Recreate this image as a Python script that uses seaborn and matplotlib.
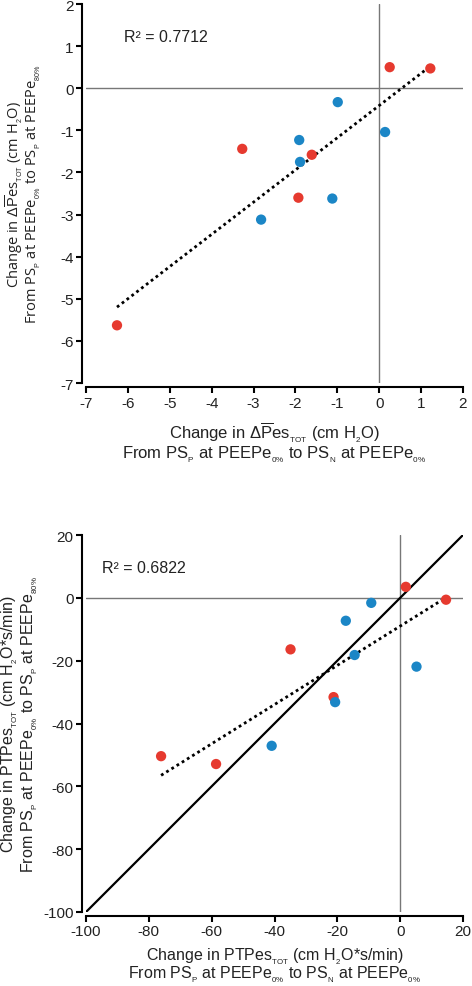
import numpy as np
import pandas as pd
import matplotlib
matplotlib.use("Agg")
import matplotlib.pyplot as plt
import seaborn as sns

# ---- data ----
top_group = ["red"] * 6 + ["blue"] * 6
top_x = [0.25, 1.22, -3.27, -1.61, -1.93, -6.26, -0.99, 0.14, -1.91, -1.89, -1.12, -2.82]
top_y = [0.50, 0.47, -1.44, -1.58, -2.60, -5.63, -0.33, -1.04, -1.23, -1.75, -2.62, -3.12]

bot_group = ["red"] * 6 + ["blue"] * 6
bot_x = [1.8, 14.6, -34.9, -21.2, -76.1, -58.6, -9.2, -17.3, -14.5, 5.2, -20.7, -40.9]
bot_y = [3.5, -0.6, -16.4, -31.6, -50.4, -52.9, -1.6, -7.3, -18.2, -21.9, -33.2, -47.1]

top_r2 = "R\u00b2 = 0.7712"
bot_r2 = "R\u00b2 = 0.6822"
top_xticks = list(range(-7, 3))
top_yticks = list(range(-7, 3))
bot_ticks = list(range(-100, 21, 20))
identity = [-100, 20]

palette = {"red": "#E63A2F", "blue": "#1B86C6"}

sns.set_theme(style="white")
plt.rcParams["font.family"] = ["Liberation Sans", "DejaVu Sans"]
plt.rcParams["mathtext.fontset"] = "custom"
plt.rcParams["mathtext.rm"] = "Liberation Sans"
plt.rcParams["mathtext.it"] = "Liberation Sans:italic"
plt.rcParams["mathtext.bf"] = "Liberation Sans:bold"
plt.rcParams["axes.unicode_minus"] = False

fig = plt.figure(figsize=(4.72, 9.87), dpi=100)
W, H = 472, 987
def axrect(x0, y0, x1, y1):
    return [x0 / W, 1 - y1 / H, (x1 - x0) / W, (y1 - y0) / H]

ax1 = fig.add_axes(axrect(86, 5, 463, 384))
ax2 = fig.add_axes(axrect(86, 536, 463, 913))

df1 = pd.DataFrame({"x": top_x, "y": top_y, "g": top_group})
df2 = pd.DataFrame({"x": bot_x, "y": bot_y, "g": bot_group})

def style(ax):
    for s in ["top", "right"]:
        ax.spines[s].set_visible(False)
    for s in ["left", "bottom"]:
        ax.spines[s].set_position(("outward", 3))
        ax.spines[s].set_linewidth(1.5)
        ax.spines[s].set_color("black")
    ax.tick_params(axis="both", direction="out", length=4, width=1.5,
                   color="black", labelsize=11, labelcolor="#222222", pad=2)
    ax.tick_params(axis="both", which="both", bottom=True, left=True)
    ax.grid(False)

def sb(t):
    return r"$_{_{\mathrm{%s}}}$" % t

def lbl1(q, unit):
    return "Change in " + q + sb("TOT") + " (cm H" + sb("2") + unit + ")"

def lbl2(a, c):
    return "From PS" + sb("P") + " at PEEPe" + sb("0\\%") + " to PS" + sb(a) + " at PEEPe" + sb(c)

DP = r"$\Delta\overline{\mathrm{P}}$es"
TXT = "#222222"

# ---- top panel ----
ax = ax1
ax.axhline(0, color="#777777", lw=1.0, zorder=1)
ax.axvline(0, color="#777777", lw=1.0, zorder=1)
sns.regplot(data=df1, x="x", y="y", scatter=False, ci=None, ax=ax,
            line_kws=dict(color="black", lw=2.0, ls=(0, (1, 1.2))))
sns.scatterplot(data=df1, x="x", y="y", hue="g", palette=palette, s=55,
                edgecolor="none", legend=False, ax=ax, zorder=3)
ax.set_xlim(-7, 2)
ax.set_ylim(-7, 2)
ax.set_xticks(top_xticks)
ax.set_yticks(top_yticks)
style(ax)
ax.text(-6.1, 1.22, top_r2, fontsize=11.5, va="center", ha="left", color=TXT)
ax.set_xlabel(lbl1(DP, "O") + "\n" + lbl2("N", "0\\%"),
              fontsize=12, color=TXT, linespacing=0.95)
ax.xaxis.set_label_coords(0.5, -0.095)
ax.set_ylabel(lbl1(DP, "O") + "\n" + lbl2("P", "80\\%"),
              fontsize=10.5, color=TXT, linespacing=1.0, family=["Open Sans", "DejaVu Sans"])
ax.yaxis.set_label_coords(-0.115, 0.5)

# ---- bottom panel ----
ax = ax2
ax.axhline(0, color="#777777", lw=1.0, zorder=1)
ax.axvline(0, color="#777777", lw=1.0, zorder=1)
sns.lineplot(x=identity, y=identity, color="black", lw=1.6, ax=ax, zorder=2)
sns.regplot(data=df2, x="x", y="y", scatter=False, ci=None, ax=ax,
            line_kws=dict(color="black", lw=2.0, ls=(0, (1, 1.2))))
sns.scatterplot(data=df2, x="x", y="y", hue="g", palette=palette, s=55,
                edgecolor="none", legend=False, ax=ax, zorder=3)
ax.set_xlim(-100, 20)
ax.set_ylim(-100, 20)
ax.set_xticks(bot_ticks)
ax.set_yticks(bot_ticks)
style(ax)
ax.text(-95, 9.7, bot_r2, fontsize=11.5, va="center", ha="left", color=TXT)
ax.set_xlabel(lbl1("PTPes", "O*s/min") + "\n" + lbl2("N", "0\\%"),
              fontsize=11.5, color=TXT, linespacing=0.85)
ax.xaxis.set_label_coords(0.5, -0.088)
ax.set_ylabel(lbl1("PTPes", "O*s/min") + "\n" + lbl2("P", "80\\%"),
              fontsize=11.5, color=TXT, linespacing=0.95)
ax.yaxis.set_label_coords(-0.122, 0.5)

fig.savefig("out.png", dpi=100)
